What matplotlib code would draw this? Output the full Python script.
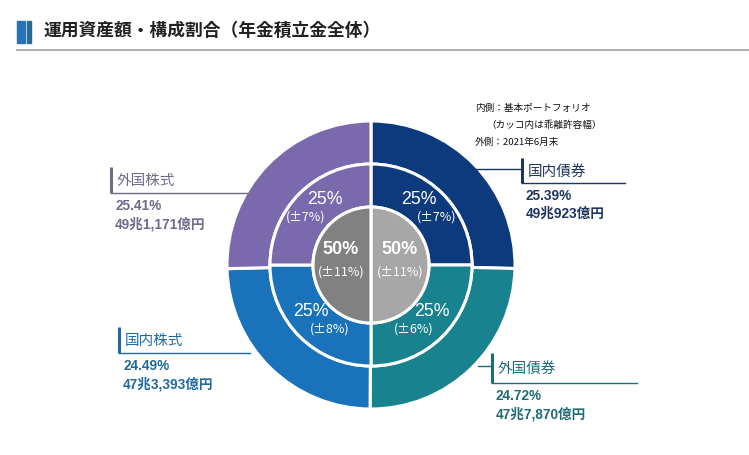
import matplotlib.pyplot as plt
from matplotlib.patches import Rectangle

# fonts: latin first, CJK fallback
JP = ['Liberation Sans', 'Noto Sans CJK JP', 'DejaVu Sans']
CJK = ['Noto Sans CJK JP', 'DejaVu Sans']
plt.rcParams['font.family'] = JP

# Data (clockwise from 12 o'clock)
assets = ['国内債券', '外国債券', '国内株式', '外国株式']
actual_pct = [25.39, 24.72, 24.49, 25.41]
amounts = ['49兆923億円', '47兆7,870億円', '47兆3,393億円', '49兆1,171億円']
policy_pct = [25, 25, 25, 25]
policy_range = ['(±7%)', '(±6%)', '(±8%)', '(±7%)']
inner_labels = ['50%', '50%']
inner_vals = [50, 50]
inner_range = ['(±11%)', '(±11%)']

ring_colors = ['#0c3a7c', '#18838f', '#1a72bb', '#7a6aad']
inner_colors = ['#a7a7a7', '#818181']
text_colors = ['#1e355f', '#1f6c76', '#21689f', '#6e6a88']

W, H = 749, 455
fig = plt.figure(figsize=(W / 100, H / 100), dpi=100)
ax = fig.add_axes([0, 0, 1, 1])

def Y(py):
    return H - py

cx, cy = 371, Y(265)
r_out, r_mid, r_in = 144, 101, 58
wp = dict(edgecolor='white', linewidth=2.2)

ax.pie(actual_pct, radius=r_out, center=(cx, cy), startangle=90, counterclock=False,
       colors=ring_colors, wedgeprops=dict(width=r_out - r_mid, **wp))
ax.pie(policy_pct, radius=r_mid, center=(cx, cy), startangle=90, counterclock=False,
       colors=ring_colors, wedgeprops=dict(width=r_mid - r_in, **wp))
ax.pie(inner_vals, radius=r_in, center=(cx, cy), startangle=90, counterclock=False,
       colors=inner_colors, wedgeprops=wp)

ax.set_xlim(0, W)
ax.set_ylim(0, H)
ax.set_aspect('auto')
ax.axis('off')

# title
ax.add_patch(Rectangle((17, Y(43)), 8, 22, color='#2874b9'))
ax.add_patch(Rectangle((27, Y(43)), 3.5, 22, color='#2a6b96'))
ax.text(44, Y(31), '運用資産額・構成割合（年金積立金全体）', family=CJK, fontsize=12.8,
        fontweight='bold', color='#222222', va='center')
ax.plot([17, W], [Y(50), Y(50)], color='#a0a0a0', lw=1.2)

# note
note_kw = dict(family=CJK, fontsize=6.9, color='#111111', va='center')
ax.text(475, Y(108), '内側：基本ポートフォリオ', **note_kw)
ax.text(486, Y(125), '（カッコ内は乖離許容幅）', **note_kw)
ax.text(475, Y(142), '外側：2021年6月末', **note_kw)

# middle ring labels
mid_pos = [(419, 199, 437, 217), (432, 312, 414, 329), (311, 312, 330, 329), (325, 199, 306, 217)]
for i, (x1, y1, x2, y2) in enumerate(mid_pos):
    ax.text(x1, Y(y1), f'{policy_pct[i]}%', fontsize=12.8, color='white', ha='center', va='center')
    ax.text(x2, Y(y2), policy_range[i], family=CJK, fontsize=9, color='white',
            ha='center', va='center')

# inner labels
for i, x in enumerate([400, 341]):
    ax.text(x, Y(249), inner_labels[i], fontsize=13, fontweight='bold', color='white',
            ha='center', va='center')
    ax.text(x, Y(272), inner_range[i], family=CJK, fontsize=9, color='white',
            ha='center', va='center')

# callouts: (bar x, bar top, bar bottom, underline end x, leader y, leader start x)
callouts = [
    (522, 158, 183, 625, 169, 474),
    (492, 353, 383, 637, 366, 478),
    (119, 327, 353, 250, None, None),
    (111, 167, 193, 247, None, None),
]
for i, (bx, t, b, ux, ly, lx) in enumerate(callouts):
    c = text_colors[i]
    ax.plot([bx, bx], [Y(t), Y(b)], color=c, lw=2.2, solid_capstyle='butt')
    ax.plot([bx, ux], [Y(b), Y(b)], color=c, lw=1.0)
    if ly is not None:
        ax.plot([lx, bx], [Y(ly), Y(ly)], color=c, lw=1.0)
    ax.text(bx + 6, Y((t + b) / 2 + 1), assets[i], family=CJK, fontsize=10.5, color=c, va='center')
    ax.text(bx + 4, Y(b + 13), f'{actual_pct[i]:.2f}%', fontsize=9.8, fontweight='bold',
            color=c, va='center')
    ax.text(bx + 4, Y(b + 31), amounts[i], fontsize=9.8, fontweight='bold', color=c, va='center')

fig.savefig('out.png', dpi=100)
